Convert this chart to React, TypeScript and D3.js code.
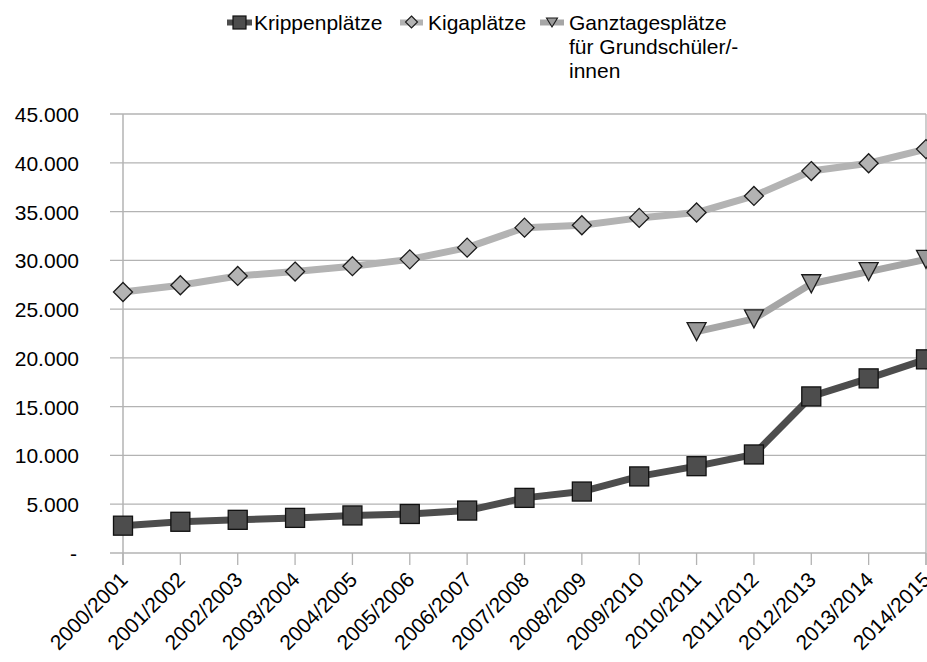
import React from "react";
import * as d3 from "d3";

const categories = [
  "2000/2001", "2001/2002", "2002/2003", "2003/2004", "2004/2005",
  "2005/2006", "2006/2007", "2007/2008", "2008/2009", "2009/2010",
  "2010/2011", "2011/2012", "2012/2013", "2013/2014", "2014/2015",
];
const krippen = [2800, 3200, 3400, 3600, 3850, 4000, 4350, 5650, 6300, 7850, 8900, 10100, 16050, 17900, 19850];
const kiga = [26750, 27450, 28400, 28850, 29400, 30100, 31300, 33350, 33600, 34350, 34900, 36600, 39150, 39950, 41400];
const ganztag: (number | null)[] = [null, null, null, null, null, null, null, null, null, null, 22700, 24000, 27600, 28850, 30100];
const yTicks = [0, 5000, 10000, 15000, 20000, 25000, 30000, 35000, 40000, 45000];
const legendLabels = ["Krippenplätze", "Kigaplätze", "Ganztagesplätze", "für Grundschüler/-", "innen"];

const W = 927;
const H = 662;
const FONT = "'Liberation Sans', Arial, sans-serif";
const FS = 21;

export default function App() {
  const x = d3.scalePoint<string>().domain(categories).range([123, 926]);
  const y = d3.scaleLinear().domain([0, 45000]).range([553, 114]);
  const fmt = (v: number) => (v === 0 ? "-" : d3.format(",")(v).replace(/,/g, "."));

  const line = d3
    .line<number | null>()
    .defined((d) => d !== null)
    .x((_, i) => x(categories[i]) as number)
    .y((d) => y(d as number));

  const sq = 19;
  const diamond = (cx: number, cy: number, r: number) =>
    `M${cx},${cy - r}L${cx + r},${cy}L${cx},${cy + r}L${cx - r},${cy}Z`;
  const tri = (cx: number, cy: number, w: number, h: number) =>
    `M${cx - w / 2},${cy - h / 2}L${cx + w / 2},${cy - h / 2}L${cx},${cy + h / 2}Z`;

  const x0 = x.range()[0];
  const x1 = x.range()[1];

  return (
    <svg width={W} height={H} style={{ position: "absolute", left: 0, top: 0, background: "#fff" }} fontFamily={FONT}>
      {/* gridlines */}
      {yTicks.map((t) => (
        <line key={t} x1={110} x2={x1} y1={y(t)} y2={y(t)} stroke="#b3b3b3" strokeWidth={1.3} />
      ))}
      {/* axes */}
      <line x1={x0} x2={x0} y1={y(45000)} y2={565} stroke="#b3b3b3" strokeWidth={1.5} />
      <line x1={x1} x2={x1} y1={y(45000)} y2={565} stroke="#b3b3b3" strokeWidth={1.3} />
      {categories.map((c) => (
        <line key={c} x1={x(c)} x2={x(c)} y1={y(0)} y2={565} stroke="#b3b3b3" strokeWidth={1.3} />
      ))}
      {/* y labels */}
      {yTicks.map((t) => (
        <text key={t} x={t === 0 ? 77 : 79} y={y(t) + 8} textAnchor="end" fontSize={FS} fill="#000">
          {fmt(t)}
        </text>
      ))}
      {/* x labels */}
      {categories.map((c) => (
        <text
          key={c}
          transform={`translate(${(x(c) as number) + 6},${581}) rotate(-45)`}
          textAnchor="end"
          fontSize={FS}
          fill="#000"
        >
          {c}
        </text>
      ))}
      {/* series lines */}
      <path d={line(kiga) || ""} fill="none" stroke="#b3b3b3" strokeWidth={7} strokeLinejoin="round" />
      <path d={line(ganztag) || ""} fill="none" stroke="#a6a6a6" strokeWidth={7} strokeLinejoin="round" />
      <path d={line(krippen) || ""} fill="none" stroke="#4d4d4d" strokeWidth={7} strokeLinejoin="round" />
      {/* markers */}
      {kiga.map((v, i) => (
        <path key={"k" + i} d={diamond(x(categories[i]) as number, y(v), 9.5)} fill="#b3b3b3" stroke="#1a1a1a" strokeWidth={1.3} />
      ))}
      {ganztag.map((v, i) =>
        v === null ? null : (
          <path key={"g" + i} d={tri(x(categories[i]) as number, y(v), 19, 18)} fill="#999999" stroke="#1a1a1a" strokeWidth={1.3} />
        )
      )}
      {krippen.map((v, i) => (
        <rect
          key={"c" + i}
          x={(x(categories[i]) as number) - sq / 2}
          y={y(v) - sq / 2}
          width={sq}
          height={sq}
          fill="#4d4d4d"
          stroke="#111"
          strokeWidth={1.3}
        />
      ))}
      {/* legend */}
      <g>
        <line x1={227} x2={252} y1={22.5} y2={22.5} stroke="#4d4d4d" strokeWidth={6} />
        <rect x={233} y={16} width={13} height={13} fill="#4d4d4d" stroke="#111" strokeWidth={1.2} />
        <text x={254} y={30} fontSize={FS}>{legendLabels[0]}</text>

        <line x1={400} x2={423} y1={22.5} y2={22.5} stroke="#b3b3b3" strokeWidth={6} />
        <path d={diamond(411.5, 22, 6)} fill="#b3b3b3" stroke="#1a1a1a" strokeWidth={1.1} />
        <text x={428} y={30} fontSize={FS}>{legendLabels[1]}</text>

        <line x1={540} x2={564} y1={22.5} y2={22.5} stroke="#a6a6a6" strokeWidth={6} />
        <path d={tri(552, 22.5, 11, 9)} fill="#999999" stroke="#1a1a1a" strokeWidth={1.1} />
        <text x={569} y={30} fontSize={FS}>{legendLabels[2]}</text>
        <text x={569} y={54} fontSize={FS}>{legendLabels[3]}</text>
        <text x={569} y={78} fontSize={FS}>{legendLabels[4]}</text>
      </g>
    </svg>
  );
}
